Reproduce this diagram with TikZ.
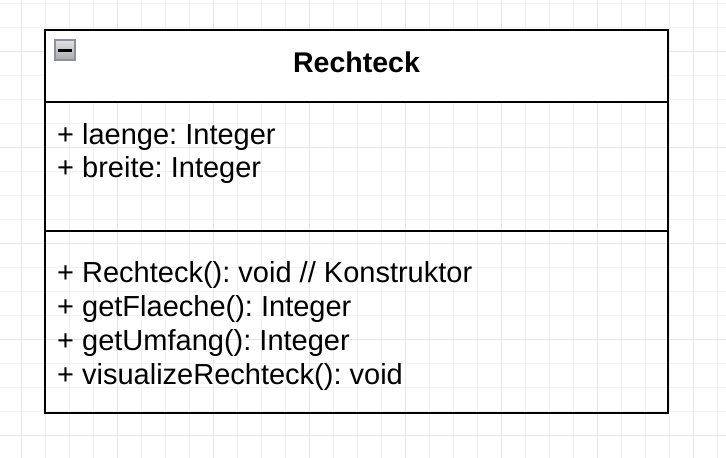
\documentclass[tikz,border=0pt]{standalone}
\usepackage{fontspec}
\setmainfont{Liberation Sans}
\frenchspacing
\definecolor{gridminor}{HTML}{F1F1F1}
\definecolor{gridmajor}{HTML}{E6E6E6}
\definecolor{iconborder}{HTML}{8C90A0}
\definecolor{icontop}{HTML}{E2E2E2}
\definecolor{iconbottom}{HTML}{A9A9A9}
\begin{document}
\begin{tikzpicture}[x=1pt,y=-1pt,
  minorline/.style={draw=gridminor,line width=0.9pt},
  majorline/.style={draw=gridmajor,line width=1pt},
  compartment/.style={draw=black,line width=2pt,outer sep=0pt,inner sep=0pt,
    minimum width=623pt,anchor=north west},
  member/.style={anchor=base west,inner sep=0pt,font=\fontsize{29}{34}\selectfont},
  title/.style={anchor=base,inner sep=0pt,font=\bfseries\fontsize{28.5}{34}\selectfont},
  toggle/.style={draw=iconborder,line width=1.6pt,minimum size=20pt,inner sep=0pt,
    top color=icontop,bottom color=iconbottom,
    path picture={\draw[line width=3pt,black]
      ([xshift=-7pt]path picture bounding box.center) --
      ([xshift=7pt]path picture bounding box.center);}}]
\useasboundingbox (0,0) rectangle (726,458);
\fill[white] (0,0) rectangle (726,458);
% background grid: minor every 24, major every 96
\foreach \x in {21,45,...,717} \draw[minorline] (\x,0) -- (\x,458);
\foreach \y in {3.5,27.5,...,458} \draw[minorline] (0,\y) -- (726,\y);
\foreach \x in {21,117,...,717} \draw[majorline] (\x,0) -- (\x,458);
\foreach \y in {51.5,147.5,...,458} \draw[majorline] (0,\y) -- (726,\y);
% class box
\node[compartment,fill=white,minimum height=72pt] (head) at (45,30) {};
\node[compartment,minimum height=129pt] (attrs) at (head.south west) {};
\node[compartment,minimum height=182pt] (ops) at (attrs.south west) {};
\node[toggle] (collapse) at (65,50) {};
\node[title] (name) at (356.5,72) {Rechteck};
% attributes
\node[member] (a1) at (57,144) {+ laenge: Integer};
\node[member] (a2) at (57,177) {+ breite: Integer};
% operations
\node[member] (m1) at (57,282) {+ Rechteck(): void // Konstruktor};
\node[member] (m2) at (57,316) {+ getFlaeche(): Integer};
\node[member] (m3) at (57,350) {+ getUmfang(): Integer};
\node[member] (m4) at (57,384) {+ visualizeRechteck(): void};
\end{tikzpicture}
\end{document}
